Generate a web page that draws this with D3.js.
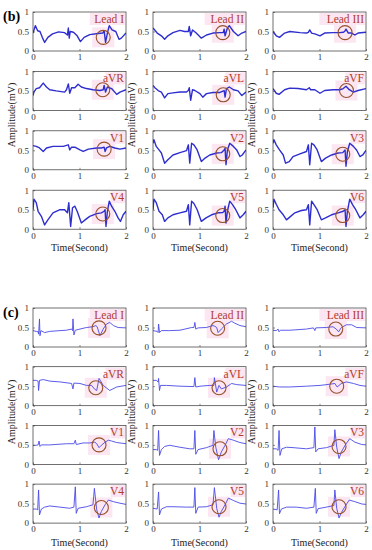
<!DOCTYPE html>
<html>
<head>
<meta charset="utf-8">
<script src="https://cdn.jsdelivr.net/npm/d3@7"></script>
<style>
  body { margin: 0; background: #fff; }
  text { font-family: "Liberation Serif", "Times New Roman", serif; }
</style>
</head>
<body>
<svg id="chart" width="372" height="550"></svg>
<script>
const leadNames = ["Lead I", "Lead II", "Lead III", "aVR", "aVL", "aVF", "V1", "V2", "V3", "V4", "V5", "V6"];
const timeTicks = [0, 1, 2];
const ampTicks = [0, 0.5, 1];

// panel (b): [time (s), amplitude (mV)]
const bLeadI = [[0,.46],[.05,.65],[.1,.52],[.15,.5],[.2,.35],[.25,.22],[.32,.35],[.42,.44],[.55,.49],[.68,.47],[.74,.41],[.76,.59],[.78,.33],[.8,.5],[.87,.48],[.95,.39],[1.02,.24],[1.1,.35],[1.22,.42],[1.4,.45],[1.5,.46],[1.53,.52],[1.56,.22],[1.6,.46],[1.64,.65],[1.7,.54],[1.78,.5],[1.85,.3],[1.9,.33],[2,.46]];
const bLeadII = [[0,.59],[.09,.46],[.18,.39],[.25,.3],[.32,.39],[.43,.47],[.58,.53],[.68,.5],[.76,.5],[.78,.63],[.81,.39],[.85,.54],[.93,.46],[1.04,.33],[1.15,.41],[1.29,.46],[1.44,.47],[1.51,.47],[1.53,.56],[1.55,.39],[1.6,.59],[1.64,.65],[1.73,.5],[1.83,.39],[1.91,.46],[2,.5]];
const bLeadIII = [[0,.5],[.07,.39],[.14,.35],[.25,.46],[.36,.5],[.58,.47],[.72,.46],[.76,.48],[.79,.54],[.83,.46],[.9,.44],[1.01,.39],[1.11,.46],[1.29,.47],[1.44,.47],[1.51,.48],[1.54,.5],[1.57,.56],[1.62,.46],[1.69,.46],[1.76,.41],[1.83,.46],[2,.48]];
const bAVR = [[0,.38],[.02,.47],[.07,.56],[.14,.58],[.22,.7],[.29,.6],[.36,.53],[.5,.5],[.68,.47],[.72,.53],[.76,.68],[.79,.44],[.83,.58],[.9,.58],[.97,.67],[1.04,.6],[1.15,.56],[1.29,.53],[1.44,.51],[1.51,.53],[1.53,.64],[1.56,.47],[1.6,.6],[1.69,.56],[1.8,.41],[1.87,.47],[2,.53]];
const bAVL = [[0,.64],[.04,.58],[.11,.51],[.18,.47],[.25,.32],[.32,.43],[.43,.45],[.58,.47],[.72,.47],[.76,.51],[.78,.58],[.81,.26],[.85,.53],[.9,.51],[1.01,.43],[1.07,.34],[1.15,.43],[1.29,.46],[1.44,.46],[1.53,.51],[1.55,.34],[1.58,.56],[1.64,.6],[1.73,.53],[1.83,.5],[1.91,.38],[2,.47]];
const bAVF = [[0,.56],[.07,.44],[.13,.41],[.25,.53],[.36,.57],[.54,.56],[.72,.53],[.78,.58],[.81,.53],[.9,.53],[1.01,.44],[1.11,.51],[1.29,.53],[1.44,.53],[1.51,.56],[1.57,.62],[1.64,.53],[1.73,.47],[1.83,.51],[2,.56]];
const bV1 = [[0,.62],[.07,.6],[.14,.56],[.22,.47],[.29,.56],[.43,.6],[.65,.6],[.76,.64],[.79,.51],[.83,.58],[.9,.58],[1.01,.51],[1.08,.47],[1.19,.53],[1.37,.56],[1.47,.56],[1.53,.58],[1.55,.47],[1.58,.56],[1.65,.6],[1.76,.56],[1.87,.53],[2,.56]];
const bV2 = [[0,.68],[.02,.77],[.07,.6],[.13,.51],[.18,.43],[.25,.17],[.32,.26],[.43,.38],[.58,.44],[.72,.49],[.76,.64],[.79,.17],[.83,.68],[.88,.64],[.95,.51],[1.04,.21],[1.12,.3],[1.22,.38],[1.37,.43],[1.47,.44],[1.53,.51],[1.55,.55],[1.57,.13],[1.6,.51],[1.65,.68],[1.73,.6],[1.8,.51],[1.87,.34],[1.92,.38],[2,.51]];
const bV3 = [[0,.68],[.02,.77],[.07,.64],[.14,.51],[.22,.38],[.27,.17],[.35,.21],[.43,.34],[.58,.41],[.72,.47],[.76,.64],[.79,.13],[.83,.68],[.88,.64],[.95,.51],[1.04,.21],[1.13,.3],[1.26,.38],[1.4,.43],[1.5,.44],[1.55,.51],[1.57,.09],[1.6,.47],[1.65,.68],[1.73,.6],[1.8,.5],[1.87,.34],[1.93,.38],[2,.5]];
const bV4 = [[0,.5],[.02,.77],[.07,.68],[.11,.46],[.18,.33],[.25,.11],[.32,.24],[.43,.42],[.58,.5],[.68,.5],[.74,.42],[.77,.68],[.81,.07],[.85,.55],[.9,.59],[.95,.46],[1.04,.16],[1.12,.24],[1.22,.33],[1.37,.4],[1.47,.42],[1.53,.46],[1.55,.5],[1.57,.07],[1.6,.46],[1.64,.72],[1.69,.59],[1.76,.46],[1.83,.29],[1.88,.2],[1.94,.37],[2,.46]];
const bV5 = [[0,.5],[.02,.77],[.07,.68],[.13,.46],[.2,.37],[.25,.2],[.32,.29],[.43,.37],[.58,.42],[.72,.46],[.76,.63],[.79,.11],[.83,.72],[.88,.66],[.95,.5],[1.04,.2],[1.14,.29],[1.26,.37],[1.4,.42],[1.5,.43],[1.53,.46],[1.55,.59],[1.57,.16],[1.6,.46],[1.65,.72],[1.71,.63],[1.78,.5],[1.87,.29],[1.94,.37],[2,.46]];
const bV6 = [[0,.55],[.02,.77],[.07,.64],[.13,.5],[.22,.37],[.29,.24],[.36,.31],[.47,.42],[.61,.48],[.72,.5],[.76,.63],[.79,.11],[.83,.72],[.88,.63],[.95,.5],[1.04,.24],[1.13,.29],[1.26,.37],[1.4,.42],[1.51,.46],[1.55,.5],[1.57,.07],[1.6,.46],[1.65,.77],[1.71,.63],[1.78,.5],[1.87,.29],[1.94,.37],[2,.46]];
const bCircles = [[1.51,.35],[1.5,.47],[1.55,.47],[1.5,.53],[1.51,.4],[1.58,.51],[1.53,.53],[1.5,.41],[1.5,.4],[1.5,.39],[1.5,.35],[1.5,.35]];

// panel (c)
const cLeadI = [[0,.42],[.07,.4],[.11,.39],[.12,.33],[.14,.72],[.15,.29],[.17,.42],[.25,.37],[.36,.4],[.58,.42],[.72,.43],[.83,.46],[.85,.42],[.86,.72],[.88,.31],[.91,.43],[1.01,.46],[1.15,.5],[1.29,.52],[1.35,.55],[1.38,.52],[1.44,.29],[1.51,.46],[1.58,.59],[1.65,.63],[1.73,.55],[1.83,.5],[2,.49]];
const cLeadII = [[0,.42],[.09,.4],[.11,.37],[.12,.59],[.14,.37],[.18,.42],[.36,.42],[.58,.43],[.83,.5],[.88,.5],[.9,.63],[.92,.46],[.97,.49],[1.15,.5],[1.29,.55],[1.33,.53],[1.37,.5],[1.4,.37],[1.47,.46],[1.58,.59],[1.69,.66],[1.76,.61],[1.87,.55],[2,.52]];
const cLeadIII = [[0,.43],[.07,.42],[.11,.46],[.13,.39],[.16,.43],[.36,.43],[.72,.46],[.87,.49],[.9,.42],[.92,.49],[1.15,.5],[1.29,.52],[1.36,.46],[1.41,.39],[1.47,.5],[1.58,.57],[1.69,.57],[1.8,.5],[2,.49]];
const cAVR = [[0,.65],[.07,.65],[.11,.63],[.12,.39],[.14,.65],[.22,.67],[.36,.63],[.58,.61],[.83,.57],[.86,.43],[.88,.58],[1.01,.57],[1.15,.52],[1.26,.52],[1.32,.43],[1.37,.39],[1.42,.7],[1.51,.52],[1.65,.39],[1.8,.48],[2,.52]];
const cAVL = [[0,.65],[.07,.65],[.11,.61],[.12,.7],[.14,.39],[.16,.52],[.29,.52],[.58,.5],[.88,.49],[.9,.72],[.92,.48],[1.01,.5],[1.22,.52],[1.31,.52],[1.32,.72],[1.37,.35],[1.42,.52],[1.47,.43],[1.58,.48],[1.69,.57],[1.8,.54],[2,.52]];
const cAVF = [[0,.5],[.14,.48],[.36,.48],[.72,.5],[1.01,.52],[1.22,.55],[1.33,.57],[1.38,.48],[1.42,.52],[1.47,.57],[1.58,.61],[1.73,.57],[1.87,.52],[2,.5]];
const cV1 = [[0,.49],[.07,.49],[.11,.5],[.13,.6],[.15,.46],[.18,.5],[.36,.5],[.72,.53],[.88,.53],[.91,.62],[.93,.51],[1.08,.55],[1.22,.55],[1.33,.57],[1.37,.53],[1.42,.43],[1.47,.49],[1.55,.57],[1.62,.62],[1.69,.6],[1.8,.56],[2,.53]];
const cV2 = [[0,.38],[.07,.38],[.1,.36],[.12,.87],[.14,.23],[.18,.38],[.25,.46],[.36,.49],[.58,.44],[.79,.4],[.88,.4],[.9,.87],[.92,.26],[.97,.38],[1.15,.43],[1.29,.49],[1.31,.87],[1.35,.44],[1.41,.12],[1.47,.32],[1.55,.49],[1.62,.66],[1.73,.62],[1.87,.56],[2,.53]];
const cV3 = [[0,.4],[.07,.4],[.11,.36],[.13,.87],[.15,.23],[.19,.4],[.29,.44],[.43,.43],[.72,.4],[.88,.43],[.9,.96],[.92,.32],[.97,.4],[1.15,.43],[1.31,.49],[1.33,.89],[1.37,.44],[1.42,.15],[1.47,.32],[1.55,.49],[1.65,.66],[1.76,.57],[1.91,.51],[2,.5]];
const cV4 = [[0,.36],[.07,.36],[.1,.34],[.12,.85],[.14,.21],[.18,.36],[.25,.41],[.36,.44],[.58,.41],[.79,.38],[.88,.41],[.91,.93],[.93,.25],[.97,.38],[1.15,.42],[1.29,.47],[1.32,.89],[1.37,.34],[1.42,.13],[1.47,.3],[1.55,.47],[1.62,.59],[1.73,.55],[1.87,.51],[2,.48]];
const cV5 = [[0,.38],[.09,.36],[.12,.8],[.14,.21],[.18,.36],[.29,.42],[.43,.42],[.72,.41],[.88,.41],[.9,.91],[.92,.25],[.97,.41],[1.15,.42],[1.29,.47],[1.32,.91],[1.37,.38],[1.42,.15],[1.47,.3],[1.55,.47],[1.62,.64],[1.73,.58],[1.87,.51],[2,.49]];
const cV6 = [[0,.36],[.09,.34],[.12,.85],[.14,.24],[.18,.36],[.29,.41],[.5,.41],[.72,.38],[.88,.41],[.91,.89],[.93,.25],[.97,.37],[1.15,.41],[1.31,.45],[1.33,.85],[1.37,.38],[1.42,.13],[1.47,.27],[1.55,.43],[1.64,.59],[1.76,.55],[1.91,.49],[2,.48]];
const cCircles = [[1.42,.49],[1.39,.48],[1.35,.46],[1.35,.46],[1.42,.46],[1.37,.5],[1.42,.5],[1.44,.4],[1.42,.46],[1.47,.4],[1.42,.42],[1.42,.42]];

const bSeries = [bLeadI, bLeadII, bLeadIII, bAVR, bAVL, bAVF, bV1, bV2, bV3, bV4, bV5, bV6];
const cSeries = [cLeadI, cLeadII, cLeadIII, cAVR, cAVL, cAVF, cV1, cV2, cV3, cV4, cV5, cV6];

const colX = [33, 153, 273];
const plotW = 93, plotH = 39;

const figures = [
    { tag: "(b)", top: 12, pitch: 59.4, series: bSeries, circles: bCircles, stroke: "#2e2ecf", lw: 1.4, ampY: 115, timeY: 251 },
    { tag: "(c)", top: 308, pitch: 58.7, series: cSeries, circles: cCircles, stroke: "#4a4ae6", lw: 0.9, ampY: 412, timeY: 546 },
];

const svg = d3.select("#chart");
const x = d3.scaleLinear().domain([0, 2]).range([0, plotW]);
const y = d3.scaleLinear().domain([0, 1]).range([plotH, 0]);
const line = d3.line().x((d) => x(d[0])).y((d) => y(d[1]));

svg.append("clipPath").attr("id", "plotClip")
    .append("rect").attr("width", plotW).attr("height", plotH);

figures.forEach((fig) => {
    svg.append("text")
        .attr("x", 3).attr("y", fig.top + 9)
        .attr("font-size", 14).attr("font-weight", "bold")
        .text(fig.tag);

    fig.series.forEach((data, i) => {
        const row = Math.floor(i / 3), col = i % 3;
        const g = svg.append("g")
            .attr("transform", `translate(${colX[col]},${fig.top + row * fig.pitch})`);

        // pinkish highlight behind circle and lead label
        const [ct, cv] = fig.circles[i];
        g.append("rect")
            .attr("x", x(ct) - 11).attr("y", y(cv) - 10)
            .attr("width", 22).attr("height", 20)
            .attr("fill", "#fbe6f1");
        g.append("rect")
            .attr("x", plotW - leadNames[i].length * 5.2 - 5).attr("y", 1)
            .attr("width", leadNames[i].length * 5.2 + 4).attr("height", 12)
            .attr("fill", "#fbe6f1");

        g.append("path")
            .datum(data)
            .attr("d", line)
            .attr("clip-path", "url(#plotClip)")
            .attr("fill", "none")
            .attr("stroke", fig.stroke)
            .attr("stroke-width", fig.lw)
            .attr("stroke-linejoin", "round");

        g.append("circle")
            .attr("cx", x(ct)).attr("cy", y(cv)).attr("r", 7)
            .attr("fill", "none").attr("stroke", "#96502a").attr("stroke-width", 1.1);

        g.append("text")
            .attr("x", plotW - 2).attr("y", 11)
            .attr("text-anchor", "end")
            .attr("font-size", 11.5)
            .attr("fill", "#b03a2e")
            .text(leadNames[i]);

        const xAxis = g.append("g")
            .attr("transform", `translate(0,${plotH})`)
            .call(d3.axisBottom(x).tickValues(timeTicks).tickSize(-2).tickSizeOuter(0).tickPadding(3).tickFormat(d3.format("d")));
        const yAxis = g.append("g")
            .call(d3.axisLeft(y).tickValues(ampTicks).tickSize(-2).tickSizeOuter(0).tickPadding(4).tickFormat((d) => String(d)));
        [xAxis, yAxis].forEach((a) => {
            a.attr("font-family", null);
            a.select(".domain").remove();
            a.selectAll("line").attr("stroke", "#444").attr("stroke-width", 0.6);
            a.selectAll("text")
                .style("font-family", "'Liberation Serif', serif")
                .attr("font-size", 9).attr("fill", "#333");
        });

        g.append("rect")
            .attr("width", plotW).attr("height", plotH)
            .attr("fill", "none").attr("stroke", "#333").attr("stroke-width", 0.7);
    });

    colX.forEach((cx) => {
        svg.append("text")
            .attr("x", cx + plotW / 2).attr("y", fig.timeY)
            .attr("text-anchor", "middle").attr("font-size", 10)
            .attr("fill", "#222")
            .text("Time(Second)");
        svg.append("text")
            .attr("transform", `translate(${cx - 18},${fig.ampY}) rotate(-90)`)
            .attr("text-anchor", "middle").attr("font-size", 10)
            .attr("fill", "#222")
            .text("Amplitude(mV)");
    });
});
</script>
</body>
</html>
